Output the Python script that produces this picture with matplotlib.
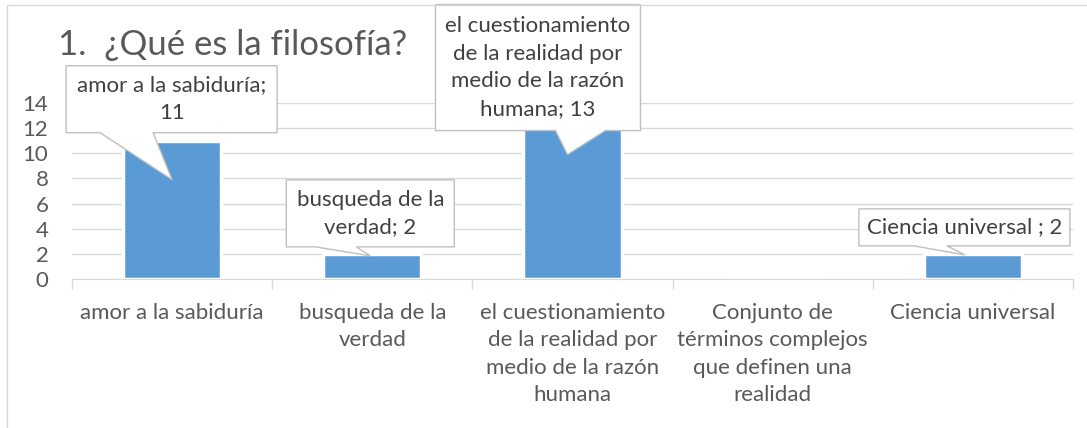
import matplotlib
matplotlib.use("Agg")
import matplotlib.pyplot as plt
import matplotlib.transforms as mtransforms
from matplotlib.patches import Polygon, Rectangle
import numpy as np

categories = ["amor a la sabiduría", "busqueda de la verdad",
              "el cuestionamiento de la realidad por medio de la razón humana",
              "Conjunto de términos complejos que definen una realidad",
              "Ciencia universal"]
tick_labels = ["amor a la sabiduría", "busqueda de la\nverdad",
               "el cuestionamiento\nde la realidad por\nmedio de la razón\nhumana",
               "Conjunto de\ntérminos complejos\nque definen una\nrealidad",
               "Ciencia universal"]
values = [11, 2, 13, 0, 2]
callout_texts = ["amor a la sabiduría;\n11", "busqueda de la\nverdad; 2",
                 "el cuestionamiento\nde la realidad por\nmedio de la razón\nhumana; 13",
                 None, "Ciencia universal ; 2"]
yticks = [0, 2, 4, 6, 8, 10, 12, 14]

# callout shapes in pixels relative to the bar top:
# left, right, top, bottom, tip dx, tip dy, base left, base right
callout_geom = [(-106, 105, 75, 8, 0, -39, -72, -19),
                (-86, 82, 74, 7, -2, -2, -57, -16),
                (-137, 68, 111, -15, -5, -39, -17, 33),
                None,
                (-114, 97, 45, 8, -8, -1, -59, -26)]

W, H = 1087, 428
plt.rcParams['font.family'] = ['Lato', 'DejaVu Sans']
fig = plt.figure(figsize=(W / 100, H / 100), dpi=100)
ax = fig.add_axes([72 / W, 1 - 279 / H, (1073 - 72) / W, (279 - 103) / H])

x = np.arange(len(categories))
ax.bar(x, values, width=0.49, color='#5b9bd5', edgecolor='white', linewidth=2.5, zorder=2)

ax.set_xlim(-0.5, len(categories) - 0.5)
ax.set_ylim(0, 14)
ax.set_yticks(yticks)
ax.set_xticks(x)
ax.set_xticklabels(tick_labels, linespacing=1.47)
ax.set_xticks(np.arange(len(categories) + 1) - 0.5, minor=True)
ax.tick_params(axis='x', which='major', length=0, pad=17, labelsize=16, labelcolor='#595959')
ax.tick_params(axis='x', which='minor', length=7, color='#d9d9d9', width=1)
ax.tick_params(axis='y', length=0, pad=17, labelsize=16, labelcolor='#595959')
ax.yaxis.grid(True, color='#d9d9d9', lw=1)
ax.set_axisbelow(True)
for s in ['top', 'right', 'left']:
    ax.spines[s].set_visible(False)
ax.spines['bottom'].set_color('#d9d9d9')

for xi, v, txt, g in zip(x, values, callout_texts, callout_geom):
    if txt is None:
        continue
    L, R, T, B, tx, ty, bl, br = g
    trans = mtransforms.IdentityTransform() + mtransforms.ScaledTranslation(xi, v, ax.transData)
    verts = [(L, T), (R, T), (R, B), (br, B), (tx, ty), (bl, B), (L, B)]
    ax.add_patch(Polygon(verts, closed=True, transform=trans, facecolor='white',
                         edgecolor='#bfbfbf', lw=1, zorder=5, clip_on=False))
    ax.text((L + R) / 2, (T + B) / 2, txt, transform=trans, ha='center', va='center',
            multialignment='center', fontsize=16, color='#404040', linespacing=1.47,
            zorder=6, clip_on=False)

fig.text(58 / W, 1 - 55 / H, "1.  ¿Qué es la filosofía?", fontsize=25, color='#595959',
         va='baseline', ha='left')

fig.patches.append(Rectangle((7 / W, -0.1), 1.2, 1.1 - 5 / H, transform=fig.transFigure,
                             fill=False, edgecolor='#d9d9d9', lw=1))

fig.savefig('out.png', dpi=100)
